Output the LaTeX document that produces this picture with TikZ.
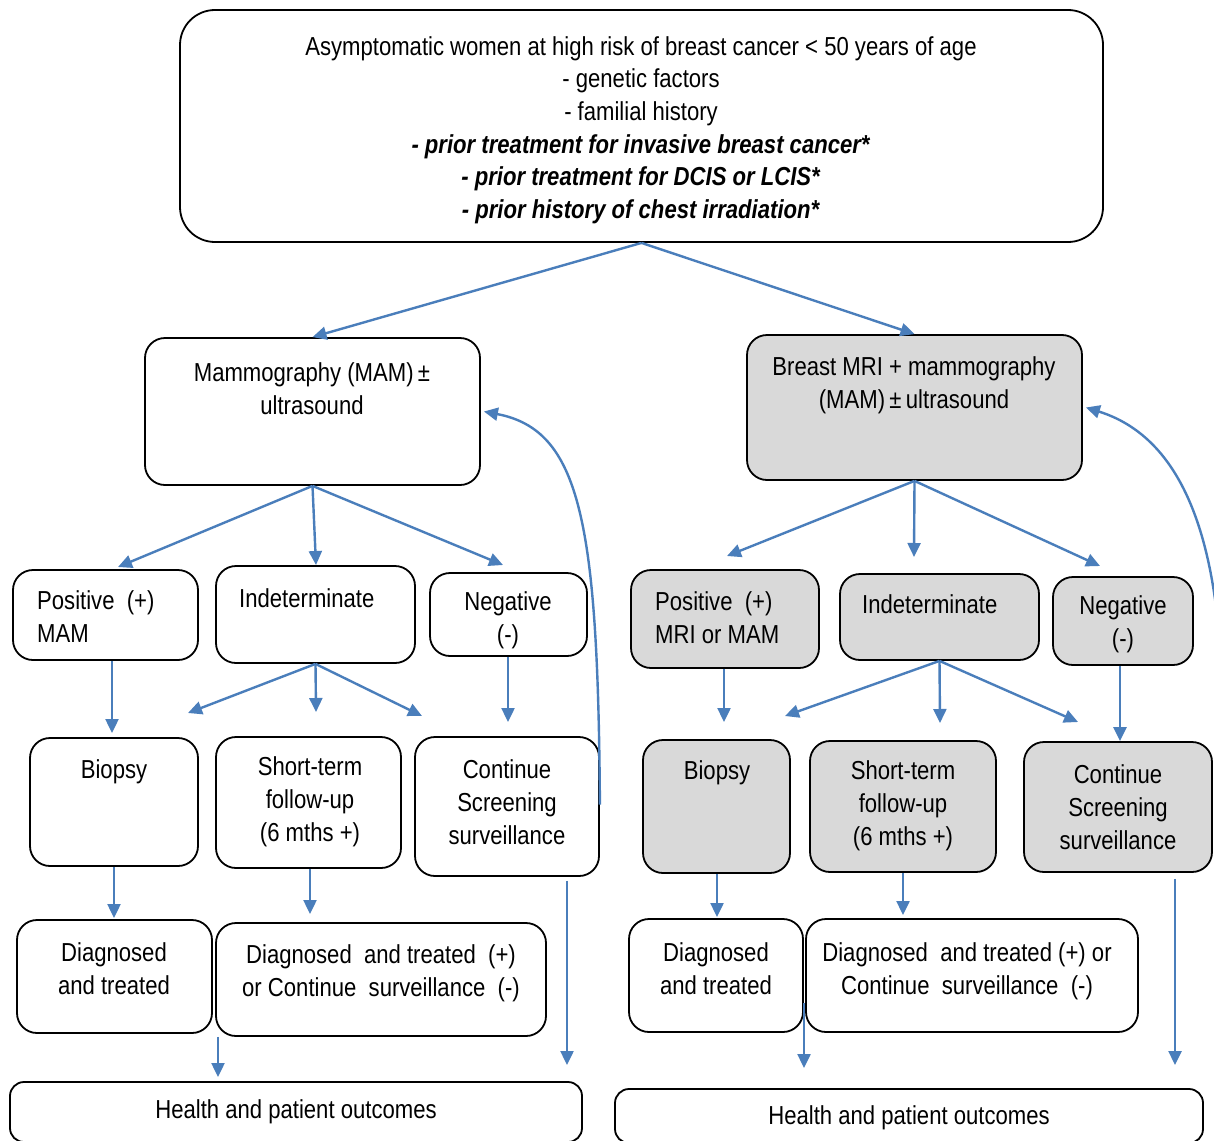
\documentclass[tikz,border=0pt]{standalone}
\usepackage{fontspec}
\setmainfont[FakeStretch=0.85]{Liberation Sans}
\usetikzlibrary{arrows.meta,calc}
\definecolor{arrowblue}{RGB}{74,126,187}
\definecolor{boxgray}{RGB}{217,217,217}
\begin{document}
\begin{tikzpicture}[x=1pt,y=-1pt,
  box/.style={draw=black, line width=1.8pt, rounded corners=20pt, inner sep=0pt, fill=white},
  gbox/.style={box, fill=boxgray},
  txt/.style={inner sep=0pt, align=center, font=\fontsize{26}{33}\selectfont},
  ltxt/.style={txt, align=left, anchor=west},
  arr/.style={draw=arrowblue, line width=2.4pt, -{Triangle[length=14pt,width=13pt]}}]
\useasboundingbox (0,0) rectangle (1214,1140);
\clip (0,0) rectangle (1214,1140);
\fill[white] (0,0) rectangle (1214,1140);

% ---------- boxes ----------
\node[box, minimum width=923pt, minimum height=232pt, rounded corners=35pt] (top) at (641.5,126) {};
\node[box,  minimum width=335pt, minimum height=147pt] (mamL) at (312.5,411.5) {};
\node[gbox, minimum width=335pt, minimum height=145pt] (mriR) at (914.5,407.5) {};

\node[box, minimum width=185pt, minimum height=90pt] (posL) at (105.5,615) {};
\node[box, minimum width=199pt, minimum height=97pt] (indL) at (315.5,614.5) {};
\node[box, minimum width=157pt, minimum height=83pt] (negL) at (508.5,614.5) {};

\node[box, minimum width=168pt, minimum height=128pt] (bioL) at (114,802) {};
\node[box, minimum width=185pt, minimum height=131pt] (stL) at (308.5,802.5) {};
\node[box, minimum width=184pt, minimum height=139pt] (conL) at (507,806.5) {};

\node[box, minimum width=195pt, minimum height=113pt] (dtL) at (114.5,976.5) {};
\node[box, minimum width=330pt, minimum height=113pt] (dcL) at (381,979.5) {};
\node[box, minimum width=572pt, minimum height=60pt, rounded corners=14pt] (hoL) at (296,1112) {};

\node[gbox, minimum width=188pt, minimum height=98pt] (posR) at (725,619) {};
\node[gbox, minimum width=199pt, minimum height=86pt] (indR) at (939.5,617) {};
\node[gbox, minimum width=140pt, minimum height=88pt] (negR) at (1123,621) {};

\node[gbox, minimum width=147pt, minimum height=133pt] (bioR) at (716.5,806.5) {};
\node[gbox, minimum width=186pt, minimum height=131pt] (stR) at (903,806.5) {};
\node[gbox, minimum width=188pt, minimum height=130pt] (conR) at (1118,807) {};

\node[box, minimum width=174pt, minimum height=113pt] (dtR) at (716,975.5) {};
\node[box, minimum width=332pt, minimum height=113pt] (dcR) at (972,975.5) {};
\node[box, minimum width=588pt, minimum height=54pt, rounded corners=14pt] (hoR) at (909,1116) {};

% ---------- texts ----------
\node[txt, font=\fontsize{26}{32.6}\selectfont] (toptxt) at (641,130)
 {Asymptomatic women at high risk of breast cancer < 50 years of age\\
  - genetic factors\\
  - familial history\\
  \textbf{\textit{- prior treatment for invasive breast cancer*}}\\
  \textbf{\textit{- prior treatment for DCIS or LCIS*}}\\
  \textbf{\textit{- prior history of chest irradiation*}}};
\node[txt] (mamLt) at (312,388.5) {Mammography (MAM)\,±\\ultrasound};
\node[txt] (mriRt) at (914,385) {Breast MRI + mammography\\(MAM)\,±\,ultrasound};

\node[ltxt] (posLt) at (37,616.5) {Positive\ \ (+)\\MAM};
\node[ltxt] (indLt) at (239,598) {Indeterminate};
\node[txt] (negLt) at (508,620.5) {Negative\\(-)};

\node[txt] (bioLt) at (114,772) {Biopsy};
\node[txt] (stLt) at (310,802) {Short-term\\follow-up\\(6 mths +)};
\node[txt] (conLt) at (507,802.5) {Continue\\Screening\\surveillance};

\node[txt] (dtLt) at (114,968.5) {Diagnosed\\and treated};
\node[txt] (dcLt) at (381,973.5) {Diagnosed\ \ and treated\ \ (+)\\or Continue\ \ surveillance\ \ (-)};
\node[txt] (hoLt) at (296,1112) {Health\ and\ patient\ outcomes};

\node[ltxt] (posRt) at (655,617.5) {Positive\ \ (+)\\MRI or MAM};
\node[ltxt] (indRt) at (862,604) {Indeterminate};
\node[txt] (negRt) at (1123,624.5) {Negative\\(-)};

\node[txt] (bioRt) at (717,773) {Biopsy};
\node[txt] (stRt) at (903,805.5) {Short-term\\follow-up\\(6 mths +)};
\node[txt] (conRt) at (1118,807.5) {Continue\\Screening\\surveillance};

\node[txt] (dtRt) at (716,968.5) {Diagnosed\\and treated};
\node[txt] (dcRt) at (967,971.5) {Diagnosed\ \ and treated\ (+)\ or\\Continue\ \ surveillance\ \ (-)};
\node[txt] (hoRt) at (909,1118) {Health\ and\ patient\ outcomes};

% ---------- free ends ----------
\coordinate (mL1) at (118,567);
\coordinate (mL2) at (316,565);
\coordinate (mL3) at (503,565);
\coordinate (pL) at (112,733);
\coordinate (iL1) at (188,713);
\coordinate (iL2) at (316,712);
\coordinate (iL3) at (422,716);
\coordinate (nL) at (508,722);
\coordinate (bL) at (114,918);
\coordinate (sL) at (310,914);
\coordinate (cL) at (567,1065);
\coordinate (hL) at (218,1077);

\coordinate (mR1) at (727,556);
\coordinate (mR2) at (914,557);
\coordinate (mR3) at (1100,566);
\coordinate (pR) at (724,722);
\coordinate (iR1) at (785,716);
\coordinate (iR2) at (940,723);
\coordinate (iR3) at (1078,722);
\coordinate (bR) at (717,917);
\coordinate (sR) at (903,915);
\coordinate (cR) at (1175,1065);
\coordinate (hR) at (804,1068);

% ---------- connectors ----------
\draw[arr] (top.south) -- (mamL.north);
\draw[arr] (top.south) -- (mriR.north);

\draw[arr] (mamL.south) -- (mL1);
\draw[arr] (mamL.south) -- (mL2);
\draw[arr] (mamL.south) -- (mL3);
\draw[arr] (posL.south -| pL) -- (pL);
\draw[arr] (indL.south) -- (iL1);
\draw[arr] (indL.south) -- (iL2);
\draw[arr] (indL.south) -- (iL3);
\draw[arr] (negL.south -| nL) -- (nL);
\draw[arr] (bioL.south) -- (bL);
\draw[arr] (stL.south -| sL) -- (sL);
\draw[arr] (conL.south -| cL) ++(0,4) -- (cL);
\draw[arr] (dcL.south west -| hL) -- (hL);
\draw[arr] ([yshift=2pt]conL.east) .. controls (598,520) and (580,430) .. ([xshift=3pt]mamL.east);

\draw[arr] (mriR.south) -- (mR1);
\draw[arr] (mriR.south) -- (mR2);
\draw[arr] (mriR.south) -- (mR3);
\draw[arr] (posR.south -| pR) -- (pR);
\draw[arr] (indR.south) -- (iR1);
\draw[arr] (indR.south) -- (iR2);
\draw[arr] (indR.south) -- (iR3);
\draw[arr] ([xshift=-3pt]negR.south) -- ([xshift=2pt]conR.north);
\draw[arr] (bioR.south -| bR) -- (bR);
\draw[arr] (stR.south -| sR) -- (sR);
\draw[arr] (conR.south -| cR) ++(0,6) -- (cR);
\draw[arr] (dtR.south east -| hR) ++(0,-30) -- (hR);
\draw[arr] ([xshift=6pt,yshift=2pt]conR.east) .. controls (1235,560) and (1190,440) .. ([xshift=3pt]mriR.east);
\end{tikzpicture}
\end{document}
